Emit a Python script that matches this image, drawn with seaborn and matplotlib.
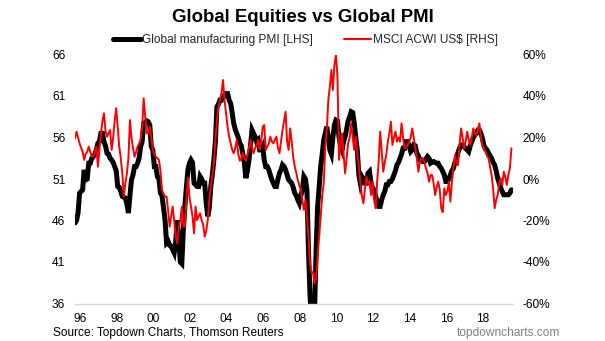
import numpy as np
import pandas as pd
import matplotlib
matplotlib.use("Agg")
import matplotlib.pyplot as plt
import matplotlib.patheffects as pe
from matplotlib.lines import Line2D
from matplotlib.ticker import FuncFormatter
import seaborn as sns

# ---------------- data (monthly, Jan 1996 - Nov 2019) ----------------
start_month = "1996-01"

pmi = [
    45.7, 46.0, 46.9, 49.3, 49.5, 49.7, 52.1, 50.9, 51.0, 52.9, 52.9, 53.5,   # 1996
    53.7, 54.0, 54.5, 55.3, 55.5, 56.5, 56.5, 55.5, 55.0, 54.1, 54.0, 53.5,   # 1997
    53.3, 53.0, 52.5, 52.0, 50.1, 50.0, 49.5, 48.9, 48.8, 48.7, 48.0, 46.9,   # 1998
    49.0, 50.9, 51.5, 52.5, 52.5, 52.9, 53.5, 54.9, 55.5, 57.7, 57.8, 58.0,   # 1999
    57.9, 57.5, 54.9, 54.5, 52.5, 52.5, 51.3, 51.0, 49.3, 49.0, 47.5, 46.1,   # 2000
    43.3, 43.5, 43.0, 42.9, 42.5, 42.1, 43.5, 46.0, 44.0, 41.0, 40.8, 44.9,   # 2001
    47.7, 50.0, 52.1, 52.9, 53.3, 53.0, 50.5, 50.3, 50.1, 50.1, 51.3, 51.0,   # 2002
    50.5, 50.5, 48.1, 46.5, 47.5, 50.1, 51.5, 53.3, 55.5, 59.7, 60.0, 60.5,   # 2003
    60.5, 61.0, 61.0, 61.3, 61.3, 60.5, 60.1, 59.0, 57.7, 57.0, 56.5, 56.0,   # 2004
    55.3, 55.0, 54.0, 52.9, 51.1, 52.0, 53.3, 55.0, 56.9, 56.5, 56.1, 55.5,   # 2005
    55.7, 54.5, 54.5, 54.9, 53.3, 52.5, 52.5, 52.1, 51.5, 50.9, 50.5, 50.1,   # 2006
    50.1, 51.0, 51.7, 52.1, 52.7, 52.5, 52.1, 51.5, 50.9, 50.7, 50.5, 50.0,   # 2007
    49.3, 49.0, 48.5, 48.1, 49.0, 49.7, 51.3, 51.0, 49.7, 42.4, 37.0, 34.0,   # 2008
    34.0, 35.0, 42.4, 47.7, 50.0, 52.5, 54.0, 55.7, 56.5, 57.3, 56.0, 54.5,   # 2009
    54.0, 56.0, 57.5, 58.1, 58.0, 56.1, 55.0, 54.5, 55.5, 56.1, 57.0, 58.0,   # 2010
    58.5, 59.1, 59.0, 57.7, 56.0, 54.5, 51.5, 50.5, 51.3, 51.0, 50.5, 50.5,   # 2011
    51.7, 51.9, 50.5, 49.9, 49.7, 48.9, 48.3, 47.7, 47.7, 48.5, 49.1, 49.5,   # 2012
    50.3, 50.3, 50.7, 50.7, 51.0, 51.5, 52.0, 52.7, 53.0, 53.5, 54.0, 54.7,   # 2013
    54.7, 55.5, 55.5, 55.0, 54.3, 54.5, 55.1, 55.0, 54.1, 53.8, 53.3, 53.3,   # 2014
    53.1, 53.1, 53.4, 53.7, 53.5, 52.9, 53.0, 53.1, 53.0, 52.9, 52.9, 52.5,   # 2015
    52.3, 51.9, 51.5, 50.7, 50.7, 51.0, 51.5, 52.0, 52.3, 53.0, 53.5, 54.2,   # 2016
    54.7, 55.1, 55.1, 54.9, 54.7, 54.5, 54.3, 55.0, 55.5, 56.0, 56.3, 56.5,   # 2017
    56.9, 56.9, 56.5, 55.9, 55.0, 54.7, 54.5, 54.1, 53.8, 53.5, 53.0, 52.7,   # 2018
    52.0, 51.1, 50.5, 49.9, 49.5, 49.1, 49.1, 49.1, 49.1, 49.3, 49.7,         # 2019
]

msci_yoy = [
    19.6, 22.8, 20.0, 17.2, 15.0, 13.2, 9.2, 12.0, 13.0, 15.6, 13.0, 11.0,     # 1996
    10.7, 13.0, 15.6, 5.9, 14.0, 22.0, 28.0, 31.7, 23.0, 20.4, 22.0, 23.6,     # 1997
    14.0, 20.0, 28.0, 34.1, 25.0, 15.6, 10.0, 2.7, -8.5, -2.0, 2.7, 10.0,      # 1998
    28.4, 20.0, 15.0, 10.7, 13.0, 15.6, 17.0, 18.8, 25.0, 38.9, 30.0, 22.0,    # 1999
    22.0, 25.2, 20.0, 14.0, 12.0, 10.7, 10.0, 9.2, 4.0, -5.3, -7.0, -8.5,      # 2000
    -8.5, -15.0, -23.0, -18.0, -13.3, -20.0, -27.8, -31.0, -23.0, -19.8, -13.3, -23.0,  # 2001
    -23.0, -10.0, 0.5, -8.5, -13.3, -18.0, -26.2, -13.3, -19.8, -18.0, -16.5, -20.0,   # 2002
    -22.0, -27.8, -25.0, -19.8, -10.0, -3.7, 2.0, 7.6, 18.8, 28.0, 34.8, 38.0,  # 2003
    41.3, 47.7, 38.0, 31.7, 25.0, 20.4, 17.2, 14.0, 12.4, 15.0, 18.8, 12.0,    # 2004
    8.8, 10.0, 12.4, 10.0, 8.8, 12.0, 15.0, 18.8, 15.0, 12.4, 15.0, 16.0,      # 2005
    18.8, 14.0, 18.0, 25.2, 26.0, 14.0, 15.6, 17.0, 20.4, 18.0, 17.2, 19.0,    # 2006
    20.4, 15.0, 12.4, 18.0, 23.6, 28.0, 32.4, 18.0, 14.0, 24.4, 18.0, 10.7,    # 2007
    6.0, 3.0, -0.5, -3.0, -5.3, -10.0, -14.9, -10.1, -18.0, -27.8, -40.6, -45.0,  # 2008
    -45.0, -50.3, -48.0, -37.4, -28.0, -18.2, -8.0, -2.1, 15.0, 23.6, 38.0, 44.5,  # 2009
    52.5, 42.9, 55.0, 59.8, 49.3, 9.2, 15.0, 22.0, 12.0, 2.7, 10.0, 17.2,      # 2010
    20.0, 26.8, 20.0, 14.0, 20.4, 12.0, 6.0, -2.1, -8.0, -11.7, -5.0, 1.1,     # 2011
    -2.1, -1.3, -7.7, -1.3, -10.1, -14.1, -1.3, 8.3, 22.8, 13.2, 3.5, 8.0,     # 2012
    11.6, 18.0, 22.0, 27.6, 16.4, 20.0, 22.8, 18.0, 20.0, 18.0, 26.8, 20.0,    # 2013
    14.8, 15.0, 16.4, 18.0, 20.0, 24.4, 20.0, 14.8, 10.0, 3.5, 8.0, 10.0,      # 2014
    10.0, 8.3, 5.0, 3.0, -1.3, 1.9, 1.9, -2.0, -7.7, -4.0, -1.3, -5.0,         # 2015
    -14.1, -16.0, -4.5, -7.7, -6.0, -1.3, -10.9, -1.3, 5.0, 11.6, 8.0, 6.7,    # 2016
    16.4, 24.4, 20.0, 14.8, 18.0, 22.8, 19.0, 16.4, 20.0, 24.4, 22.0, 21.2,    # 2017
    24.0, 26.8, 20.0, 16.4, 14.0, 13.2, 11.0, 10.0, 6.0, 1.9, -4.5, -14.1,     # 2018
    -10.0, -7.7, -2.0, 0.3, -3.0, 3.5, 1.0, -2.9, 2.0, 5.2, 14.8,             # 2019
]

tick_years = [1996, 1998, 2000, 2002, 2004, 2006, 2008, 2010, 2012, 2014, 2016, 2018]
tick_labels = ["96", "98", "00", "02", "04", "06", "08", "10", "12", "14", "16", "18"]
left_ticks = [36, 41, 46, 51, 56, 61, 66]
right_ticks = [-60, -40, -20, 0, 20, 40, 60]

title = "Global Equities vs Global PMI"
pmi_label = "Global manufacturing PMI [LHS]"
msci_label = "MSCI ACWI US$ [RHS]"
source_text = "Source: Topdown Charts, Thomson Reuters"
brand_text = "topdowncharts.com"

# ---------------- frame ----------------
dates = pd.date_range(start_month, periods=len(pmi), freq="MS")
df = pd.DataFrame({
    "t": dates.year + (dates.month - 1) / 12.0,
    "pmi": pmi,
    "msci": msci_yoy,
})

sns.set_style("white")
plt.rcParams["font.family"] = ["Liberation Sans", "DejaVu Sans"]

fig = plt.figure(figsize=(6.05, 3.41), dpi=100)
ax = fig.add_axes([75 / 605, 1 - 303.5 / 341, (513 - 75) / 605, (303.5 - 54.5) / 341])
ax2 = ax.twinx()

sns.lineplot(data=df, x="t", y="pmi", ax=ax, color="black", linewidth=3.6,
             solid_joinstyle="miter",
             path_effects=[pe.Stroke(linewidth=5.2, foreground="white"), pe.Normal()],
             legend=False)
sns.lineplot(data=df, x="t", y="msci", ax=ax2, color="#ff0000", linewidth=1.4,
             legend=False)

ax.set_xlim(1996.0, 2019.92)
ax.set_ylim(36, 66)
ax2.set_ylim(-60, 60)

ax.set_yticks(left_ticks)
ax.set_yticklabels([str(v) for v in left_ticks])
ax2.set_yticks(right_ticks)
ax2.yaxis.set_major_formatter(FuncFormatter(lambda v, p: f"{v:.0f}%"))

# x: small tick marks at year start, labels slightly to the right
ax.set_xticks([y + 0.28 for y in tick_years])
ax.set_xticklabels(tick_labels)
ax.set_xticks(tick_years, minor=True)
ax.tick_params(axis="x", which="major", length=0, pad=7, labelsize=8.6, colors="black")
ax.tick_params(axis="x", which="minor", length=3, direction="in", color="#d0d0d0", width=0.8)
ax.tick_params(axis="y", length=0, pad=7, labelsize=8.6, colors="black")
ax2.tick_params(axis="y", length=0, pad=7, labelsize=8.6, colors="black")

for a in (ax, ax2):
    for s in ("top", "left", "right", "bottom"):
        a.spines[s].set_visible(False)
    a.set_xlabel("")
    a.set_ylabel("")
    a.grid(False)
ax.spines["bottom"].set_visible(True)
ax.spines["bottom"].set_color("#d9d9d9")
ax.spines["bottom"].set_linewidth(1.0)

fig.text(0.5, 1 - 17 / 341, title, ha="center", va="center",
         fontsize=13.4, fontweight="bold", color="black")

handles = [
    Line2D([], [], color="black", linewidth=3.6),
    Line2D([], [], color="#ff0000", linewidth=1.5),
]
fig.legend(handles, [pmi_label, msci_label], loc="center",
           bbox_to_anchor=(0.505, 1 - 40 / 341), ncol=2, frameon=False,
           fontsize=8.6, handlelength=2.3, handletextpad=0.1,
           columnspacing=2.6, borderpad=0)

fig.text(53 / 605, 1 - 333 / 341, source_text, ha="left", va="center",
         fontsize=8.6, color="black")
fig.text(560 / 605, 1 - 333 / 341, brand_text, ha="right", va="center",
         fontsize=8.6, color="#808080")

fig.savefig("out.png", dpi=100)
